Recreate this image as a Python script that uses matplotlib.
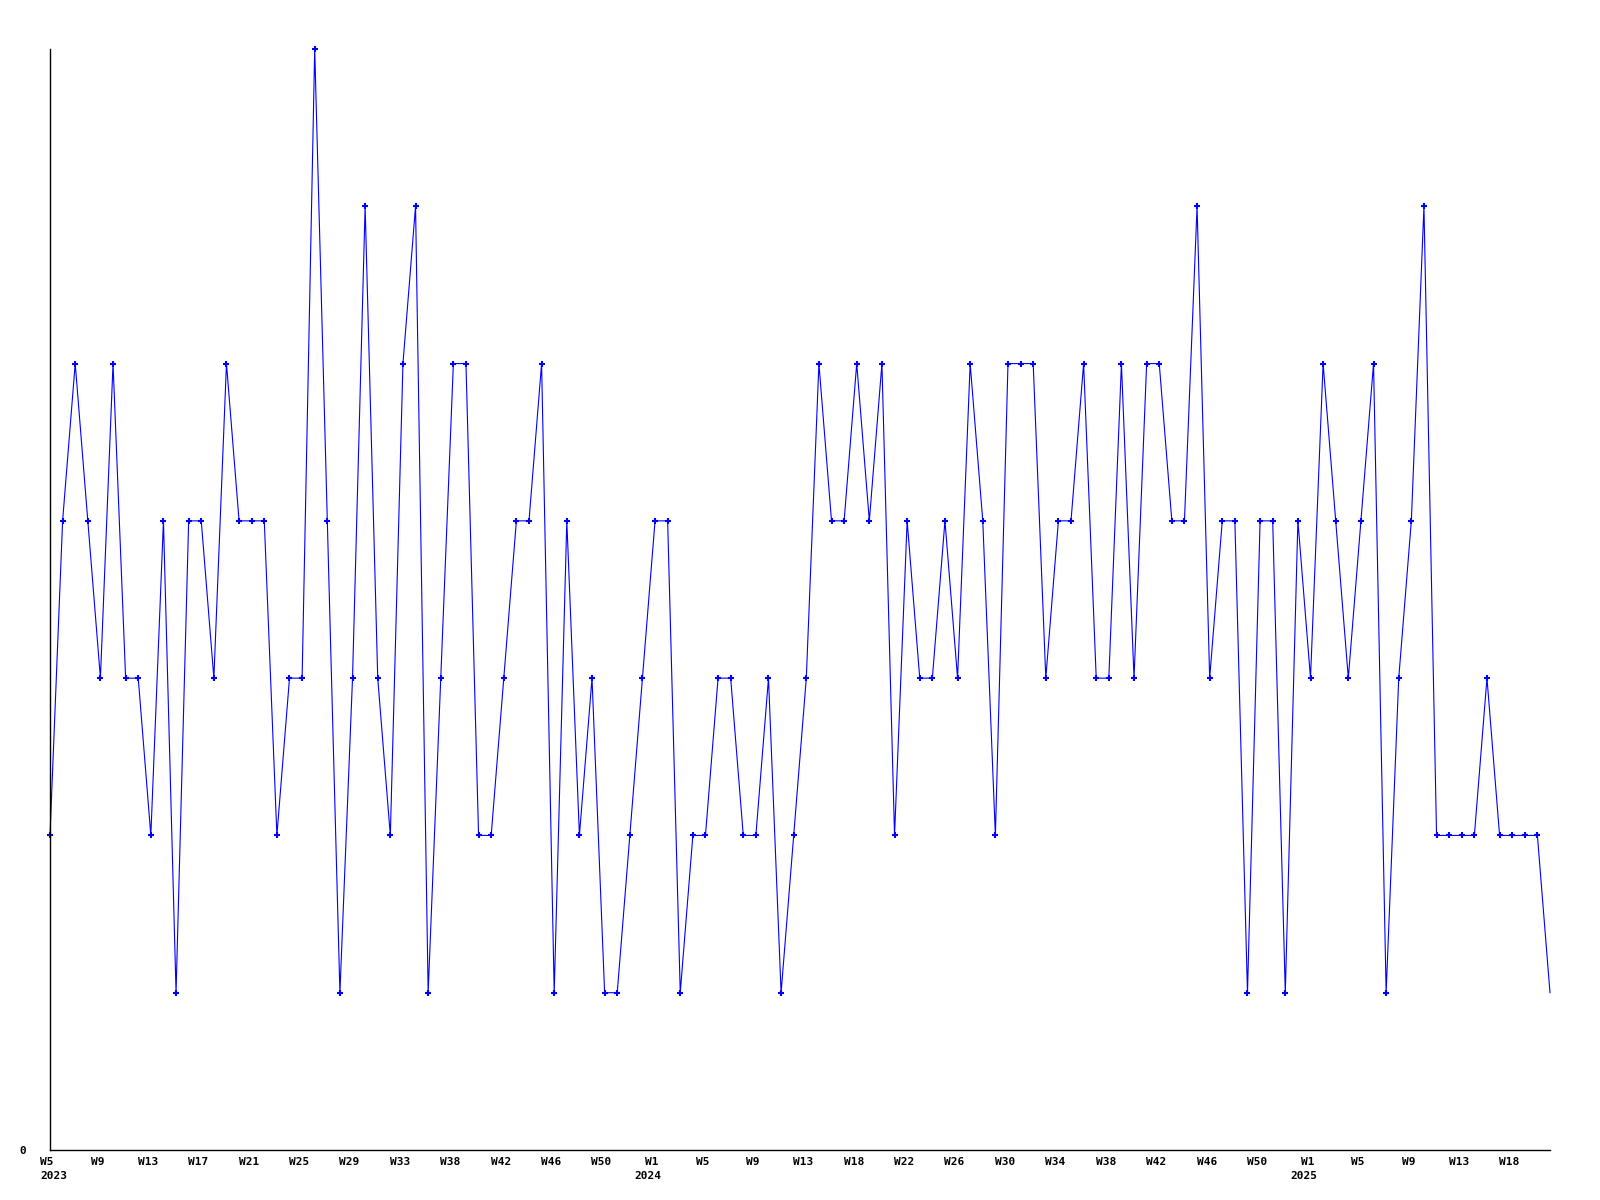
import matplotlib
matplotlib.use("Agg")
import matplotlib.pyplot as plt
import matplotlib.transforms as mtransforms

# weekly values, starting 2023 W5
values = [
    2, 4, 5, 4, 3, 5, 3, 3, 2, 4,
    1, 4, 4, 3, 5, 4, 4, 4, 2, 3,
    3, 7, 4, 1, 3, 6, 3, 2, 5, 6,
    1, 3, 5, 5, 2, 2, 3, 4, 4, 5,
    1, 4, 2, 3, 1, 1, 2, 3, 4, 4,
    1, 2, 2, 3, 3, 2, 2, 3, 1, 2,
    3, 5, 4, 4, 5, 4, 5, 2, 4, 3,
    3, 4, 3, 5, 4, 2, 5, 5, 5, 3,
    4, 4, 5, 3, 3, 5, 3, 5, 5, 4,
    4, 6, 3, 4, 4, 1, 4, 4, 1, 4,
    3, 5, 4, 3, 4, 5, 1, 3, 4, 6,
    2, 2, 2, 2, 3, 2, 2, 2, 2, 1,
]

week_labels = [
    "W5", "W9", "W13", "W17", "W21", "W25", "W29", "W33", "W38", "W42",
    "W46", "W50", "W1", "W5", "W9", "W13", "W18", "W22", "W26", "W30",
    "W34", "W38", "W42", "W46", "W50", "W1", "W5", "W9", "W13", "W18",
]
label_step = 4

years = ["2023", "2024", "2025"]
year_index = [0, 48, 100]

font = dict(family="DejaVu Sans Mono", weight="bold", size=8)

fig = plt.figure(figsize=(16, 12), dpi=100)
ax = fig.add_axes([50 / 1600, 50 / 1200, 1500 / 1600, 1101 / 1200])

x = list(range(len(values)))
ax.plot(x, values, color="#0000ff", linewidth=0.8,
        marker="+", markersize=3.8, markeredgewidth=1.5,
        markevery=list(range(len(values) - 1)), clip_on=False)

ax.set_xlim(0, len(values) - 1)
ax.set_ylim(0, 7)

ax.set_xticks([i * label_step for i in range(len(week_labels))])
ax.set_xticklabels(week_labels, fontdict=font)
ax.set_yticks([0])
ax.set_yticklabels(["0"], fontdict=font)
ax.tick_params(axis="x", length=0, pad=5)
ax.tick_params(axis="y", length=0, pad=17)

# labels sit a few pixels left of their week
shift = mtransforms.ScaledTranslation(-3 / 100, 0, fig.dpi_scale_trans)
for lbl in ax.get_xticklabels():
    lbl.set_transform(lbl.get_transform() + shift)

trans = mtransforms.blended_transform_factory(ax.transData, ax.transAxes)
year_shift = mtransforms.ScaledTranslation(-7 / 100, 0, fig.dpi_scale_trans)
for yr, idx in zip(years, year_index):
    if idx == 0:
        ax.text(idx - 0.8, -0.024, yr, transform=trans, ha="left", va="center", **font)
    else:
        ax.text(idx, -0.024, yr, transform=trans + year_shift, ha="center", va="center", **font)

for side in ["top", "right"]:
    ax.spines[side].set_visible(False)
for side in ["left", "bottom"]:
    ax.spines[side].set_color("black")
    ax.spines[side].set_linewidth(1.0)

fig.savefig("out.png", dpi=100, facecolor="white")
